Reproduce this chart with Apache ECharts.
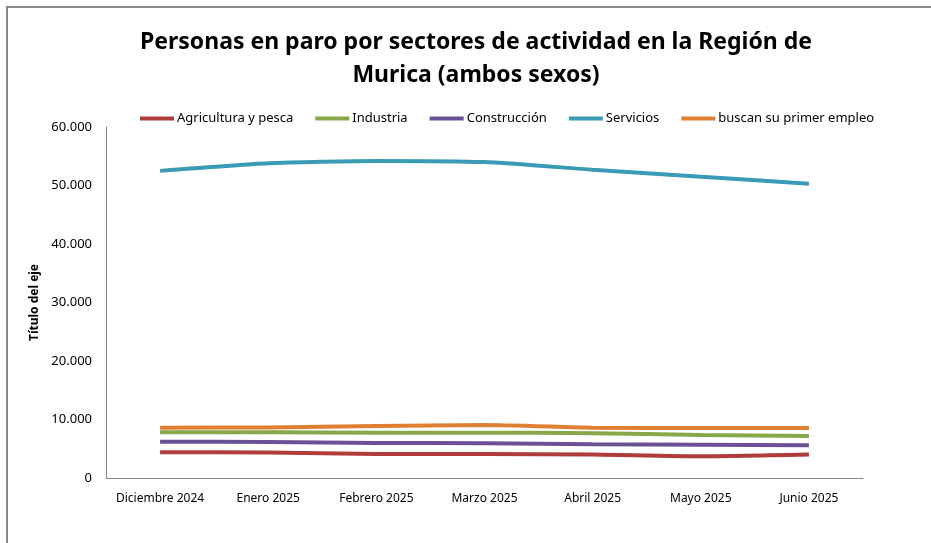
<!DOCTYPE html>
<html>
<head>
<meta charset="utf-8">
<script src="https://cdn.jsdelivr.net/npm/echarts@6/dist/echarts.min.js"></script>
<style>
  html, body { margin: 0; padding: 0; background: #fff; }
  #chart { width: 931px; height: 543px; }
</style>
</head>
<body>
<div id="chart"></div>
<script>
var meses = ['Diciembre 2024', 'Enero 2025', 'Febrero 2025', 'Marzo 2025', 'Abril 2025', 'Mayo 2025', 'Junio 2025'];
var agricultura = [4400, 4350, 4100, 4100, 4000, 3700, 4000];
var industria = [7800, 7800, 7750, 7750, 7650, 7350, 7200];
var construccion = [6200, 6150, 6000, 5950, 5750, 5700, 5600];
var servicios = [52500, 53800, 54200, 54000, 52700, 51500, 50300];
var primerEmpleo = [8600, 8650, 8900, 9050, 8600, 8550, 8550];

var nombres = ['Agricultura y pesca', 'Industria', 'Construcción', 'Servicios', 'buscan su primer empleo'];
var colores = ['#b03c3a', '#86a74a', '#6b5194', '#3b9ab4', '#e07f32'];
var valores = [agricultura, industria, construccion, servicios, primerEmpleo];

var font = 'Noto Sans';

function serie(i) {
    return {
        name: nombres[i],
        type: 'line',
        data: valores[i],
        symbol: 'none',
        smooth: 0.2,
        lineStyle: { width: 4, color: colores[i] },
        itemStyle: { color: colores[i] }
    };
}

var myChart = echarts.init(document.getElementById('chart'));

var option = {
    animation: false,
    color: colores,
    graphic: [{
        type: 'rect',
        shape: { x: 7, y: 7, width: 1000, height: 1000 },
        style: { fill: 'none', stroke: '#888', lineWidth: 2 }
    }],
    title: {
        text: 'Personas en paro por sectores de actividad en la Región de\nMurica (ambos sexos)',
        left: 471,
        top: 21,
        textAlign: 'center',
        textStyle: { fontFamily: font, fontSize: 23, fontWeight: 'bold', color: '#000', lineHeight: 33 }
    },
    legend: {
        top: 107,
        left: 135,
        itemWidth: 34,
        itemHeight: 4,
        itemGap: 22,
        icon: 'rect',
        textStyle: { fontFamily: font, fontSize: 13, color: '#000', padding: [0, 0, 0, -2] },
        data: nombres
    },
    grid: { left: 106, right: 68, top: 127, bottom: 65 },
    xAxis: {
        type: 'category',
        data: meses,
        boundaryGap: true,
        axisLine: { lineStyle: { color: '#868686', width: 1 } },
        axisTick: { show: false },
        axisLabel: { fontFamily: font, fontSize: 12, color: '#000', margin: 15, interval: 0 }
    },
    yAxis: {
        type: 'value',
        min: 0,
        max: 60000,
        interval: 10000,
        name: 'Título del eje',
        nameLocation: 'middle',
        nameGap: 60,
        nameTextStyle: { fontFamily: font, fontSize: 12, fontWeight: 'bold', color: '#000' },
        axisLine: { show: true, lineStyle: { color: '#868686', width: 1 } },
        axisTick: { show: false },
        splitLine: { show: false },
        axisLabel: {
            fontFamily: font, fontSize: 13, color: '#000', margin: 14,
            formatter: function (v) { return v === 0 ? '0' : (v / 1000) + '.000'; }
        }
    },
    series: [serie(0), serie(1), serie(2), serie(3), serie(4)]
};

myChart.setOption(option);
</script>
</body>
</html>
